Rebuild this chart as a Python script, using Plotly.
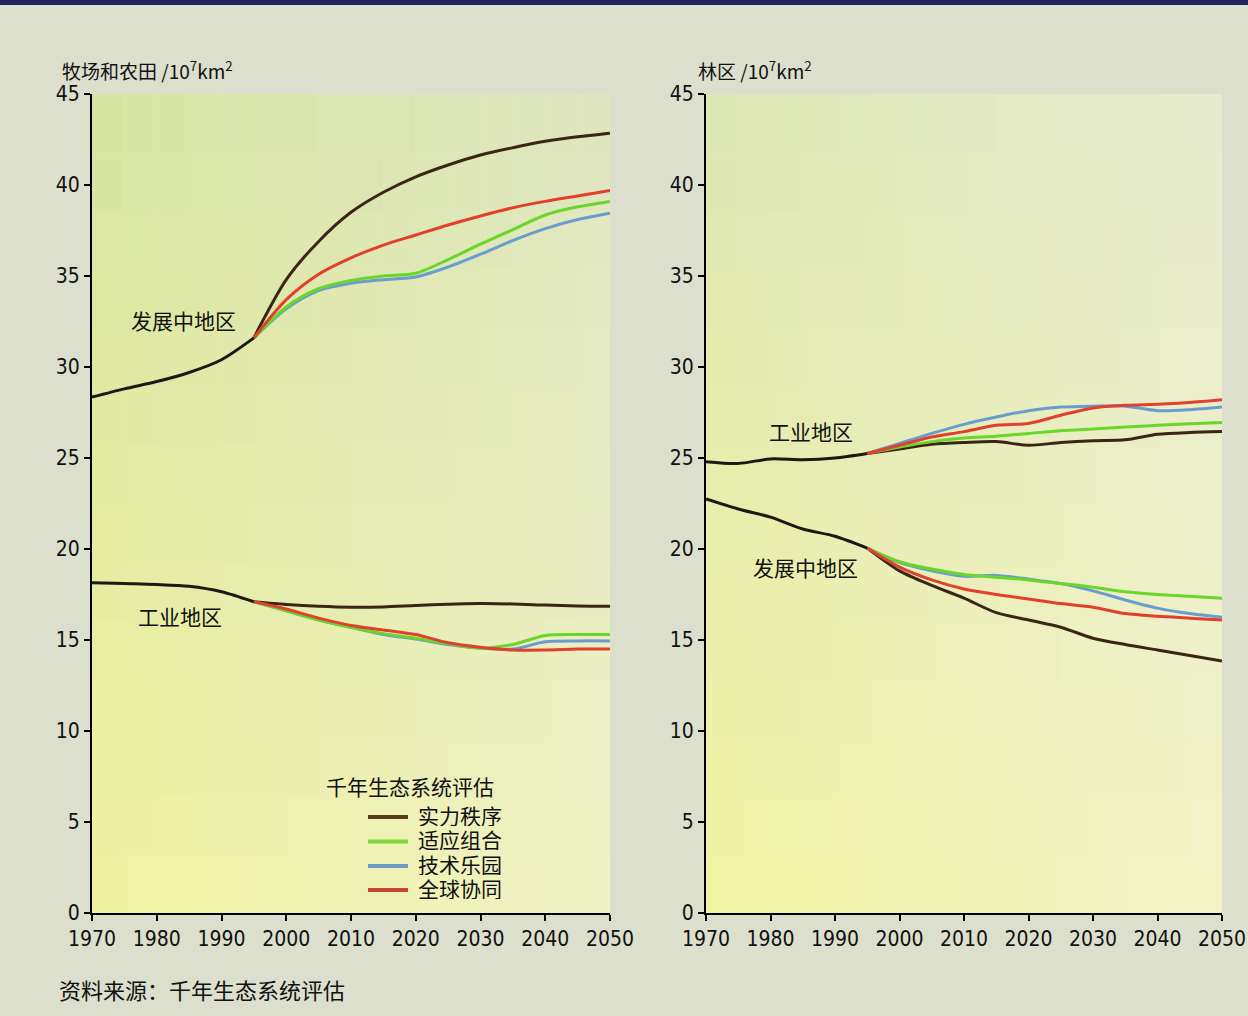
import plotly.graph_objects as go

# ---------------- data ----------------
hist_years = [1970, 1975, 1980, 1985, 1990, 1995]
scen_years = [1995, 2000, 2005, 2010, 2015, 2020, 2025, 2030, 2035, 2040, 2045, 2050]
scenarios = ["实力秩序", "适应组合", "技术乐园", "全球协同"]

# Left panel: 牧场和农田 (pasture & cropland)
crop_dev_hist = [28.35, 28.8, 29.2, 29.7, 30.4, 31.6]
crop_dev = {
    "实力秩序": [31.6, 34.8, 36.9, 38.5, 39.6, 40.45, 41.1, 41.65, 42.05, 42.4, 42.65, 42.85],
    "适应组合": [31.6, 33.3, 34.3, 34.75, 35.0, 35.15, 35.9, 36.75, 37.55, 38.35, 38.8, 39.1],
    "技术乐园": [31.6, 33.2, 34.2, 34.6, 34.8, 34.95, 35.5, 36.2, 36.95, 37.6, 38.1, 38.45],
    "全球协同": [31.6, 33.7, 35.1, 36.0, 36.7, 37.25, 37.8, 38.3, 38.75, 39.1, 39.4, 39.7],
}
crop_ind_hist = [18.15, 18.1, 18.05, 17.95, 17.65, 17.1]
crop_ind = {
    "实力秩序": [17.1, 16.95, 16.85, 16.8, 16.82, 16.9, 16.97, 17.0, 16.98, 16.92, 16.87, 16.85],
    "适应组合": [17.1, 16.6, 16.1, 15.7, 15.35, 15.1, 14.8, 14.55, 14.75, 15.25, 15.3, 15.3],
    "技术乐园": [17.1, 16.6, 16.1, 15.7, 15.3, 15.05, 14.75, 14.55, 14.5, 14.9, 14.95, 14.95],
    "全球协同": [17.1, 16.7, 16.2, 15.8, 15.55, 15.3, 14.85, 14.6, 14.45, 14.45, 14.5, 14.5],
}

# Right panel: 林区 (forest)
forest_ind_hist = [24.8, 24.7, 24.95, 24.9, 25.0, 25.25]
forest_ind = {
    "实力秩序": [25.25, 25.5, 25.75, 25.85, 25.9, 25.7, 25.85, 25.95, 26.0, 26.3, 26.4, 26.45],
    "适应组合": [25.25, 25.6, 25.9, 26.1, 26.2, 26.35, 26.5, 26.6, 26.7, 26.8, 26.88, 26.95],
    "技术乐园": [25.25, 25.8, 26.35, 26.85, 27.25, 27.6, 27.8, 27.85, 27.85, 27.6, 27.65, 27.8],
    "全球协同": [25.25, 25.7, 26.15, 26.45, 26.8, 26.9, 27.35, 27.75, 27.9, 27.95, 28.05, 28.2],
}
forest_dev_hist = [22.75, 22.2, 21.75, 21.1, 20.7, 20.05]
forest_dev = {
    "实力秩序": [20.05, 18.8, 18.0, 17.3, 16.5, 16.1, 15.7, 15.1, 14.75, 14.45, 14.15, 13.85],
    "适应组合": [20.05, 19.3, 18.9, 18.6, 18.45, 18.3, 18.1, 17.9, 17.65, 17.5, 17.4, 17.3],
    "技术乐园": [20.05, 19.25, 18.8, 18.5, 18.55, 18.35, 18.1, 17.7, 17.2, 16.75, 16.45, 16.25],
    "全球协同": [20.05, 19.0, 18.3, 17.8, 17.5, 17.25, 17.0, 16.8, 16.45, 16.3, 16.2, 16.1],
}

x_ticks = [1970, 1980, 1990, 2000, 2010, 2020, 2030, 2040, 2050]
y_ticks = [0, 5, 10, 15, 20, 25, 30, 35, 40, 45]

# ---------------- style ----------------
colors = {"实力秩序": "#3a2516", "适应组合": "#6ad62a", "技术乐园": "#6b9ccf", "全球协同": "#e0402c"}
legend_colors = {"实力秩序": "#5a3a1f", "适应组合": "#7ed83a", "技术乐园": "#6f9ac2", "全球协同": "#c4472e"}
draw_order = ["实力秩序", "技术乐园", "适应组合", "全球协同"]
hist_color = "#1c1813"
CJK = "Noto Sans CJK SC"
NUM = "DejaVu Sans Condensed, Liberation Sans Narrow, Arial Narrow, Liberation Sans, Arial"

fig = go.Figure()

def add_group(xa, ya, hist, scen):
    for name in draw_order:
        fig.add_trace(go.Scatter(
            x=scen_years, y=scen[name], mode="lines", name=name,
            line=dict(color=colors[name], width=3, shape="spline", smoothing=0.8),
            xaxis=xa, yaxis=ya, showlegend=False, hoverinfo="skip"))
    fig.add_trace(go.Scatter(
        x=hist_years, y=hist, mode="lines", showlegend=False,
        line=dict(color=hist_color, width=3, shape="spline", smoothing=0.8),
        xaxis=xa, yaxis=ya, hoverinfo="skip"))

add_group("x", "y", crop_ind_hist, crop_ind)
add_group("x", "y", crop_dev_hist, crop_dev)
add_group("x2", "y2", forest_ind_hist, forest_ind)
add_group("x2", "y2", forest_dev_hist, forest_dev)

W, H = 1248, 1016
ybot = 1 - 913 / H
ytop = 1 - 94 / H

axis_common = dict(
    range=[1970, 2050], tickvals=x_ticks, showgrid=False, zeroline=False,
    showline=True, linecolor="black", linewidth=2, ticks="outside",
    ticklen=6, tickwidth=2, tickcolor="black", automargin=False,
    tickfont=dict(family=NUM, size=21, color="#111"), fixedrange=True)
yaxis_common = dict(
    range=[0, 45], tickvals=y_ticks, showgrid=False, zeroline=False,
    showline=True, linecolor="black", linewidth=2, ticks="outside",
    ticklen=6, tickwidth=2, tickcolor="black", automargin=False,
    tickfont=dict(family=NUM, size=21, color="#111"), fixedrange=True)

fig.update_layout(
    width=W, height=H, autosize=False,
    margin=dict(l=0, r=0, t=0, b=0, pad=0, autoexpand=False),
    paper_bgcolor="#dcdfcc",
    plot_bgcolor="#e9eeb8",
    xaxis=dict(domain=[92 / W, 610 / W], anchor="y", **axis_common),
    yaxis=dict(domain=[ybot, ytop], anchor="x", **yaxis_common),
    xaxis2=dict(domain=[706 / W, 1222 / W], anchor="y2", **axis_common),
    yaxis2=dict(domain=[ybot, ytop], anchor="x2", **yaxis_common),
    showlegend=False,
)

# ---------------- background gradient (plot areas) ----------------
def hex2rgb(h):
    h = h.lstrip("#")
    return [int(h[i:i + 2], 16) for i in (0, 2, 4)]

def add_gradient(xref, yref, tl, tr, bl, br, nx=16, ny=14):
    tl, tr, bl, br = map(hex2rgb, (tl, tr, bl, br))
    for i in range(nx):
        for j in range(ny):
            u = (i + 0.5) / nx
            v = (j + 0.5) / ny  # 0 bottom, 1 top
            c = [round((1 - u) * (1 - v) * bl[k] + u * (1 - v) * br[k] + (1 - u) * v * tl[k] + u * v * tr[k]) for k in range(3)]
            fig.add_shape(type="rect", xref=xref, yref=yref,
                          x0=i / nx, x1=(i + 1) / nx, y0=j / ny, y1=(j + 1) / ny,
                          fillcolor="rgb(%d,%d,%d)" % tuple(c), line=dict(width=0), layer="below")

add_gradient("x domain", "y domain", "#d6e4a2", "#dfe6c0", "#f1f3a0", "#eff2c6")
add_gradient("x2 domain", "y2 domain", "#dde7b4", "#e6ebcf", "#f1f3a2", "#f3f4c8")

# top navy bar
fig.add_shape(type="rect", xref="paper", yref="paper", x0=0, x1=1, y0=1 - 5 / H, y1=1,
              fillcolor="#232363", line=dict(width=0))

# ---------------- annotations ----------------
def ann(text, x, y, xref="x", yref="y", size=20, xanchor="center", height=None):
    fig.add_annotation(text=text, x=x, y=y, xref=xref, yref=yref, showarrow=False,
                       xanchor=xanchor, yanchor="middle", height=height,
                       font=dict(family=CJK, size=size, color="#111"))

ann("发展中地区", 1984.2, 32.6, size=21)
ann("工业地区", 1983.6, 16.3, size=21)
ann("工业地区", 1986.3, 26.5, "x2", "y2", size=21)
ann("发展中地区", 1985.5, 19.0, "x2", "y2", size=21)

# legend (key) block
ann("千年生态系统评估", 324 / W, 1 - 786 / H, "paper", "paper", size=21, xanchor="left", height=24)
key_y = [817, 841.5, 866, 890]
for name, yy in zip(scenarios, key_y):
    fig.add_shape(type="line", xref="paper", yref="paper",
                  x0=368 / W, x1=408 / W, y0=1 - yy / H, y1=1 - yy / H,
                  line=dict(color=legend_colors[name], width=4))
    ann(name, 416 / W, 1 - (yy - 3) / H, "paper", "paper", size=21, xanchor="left", height=23)

ann("牧场和农田 /10<sup>7</sup>km<sup>2</sup>", 60 / W, 1 - 70 / H, "paper", "paper", size=19, xanchor="left")
ann("林区 /10<sup>7</sup>km<sup>2</sup>", 696 / W, 1 - 70 / H, "paper", "paper", size=19, xanchor="left")
ann("资料来源：千年生态系统评估", 57 / W, 1 - 989 / H, "paper", "paper", size=22, xanchor="left")

fig.write_html("out.html", config={"displayModeBar": False},
               post_script="document.body.style.margin='0';document.body.style.overflow='hidden';")
